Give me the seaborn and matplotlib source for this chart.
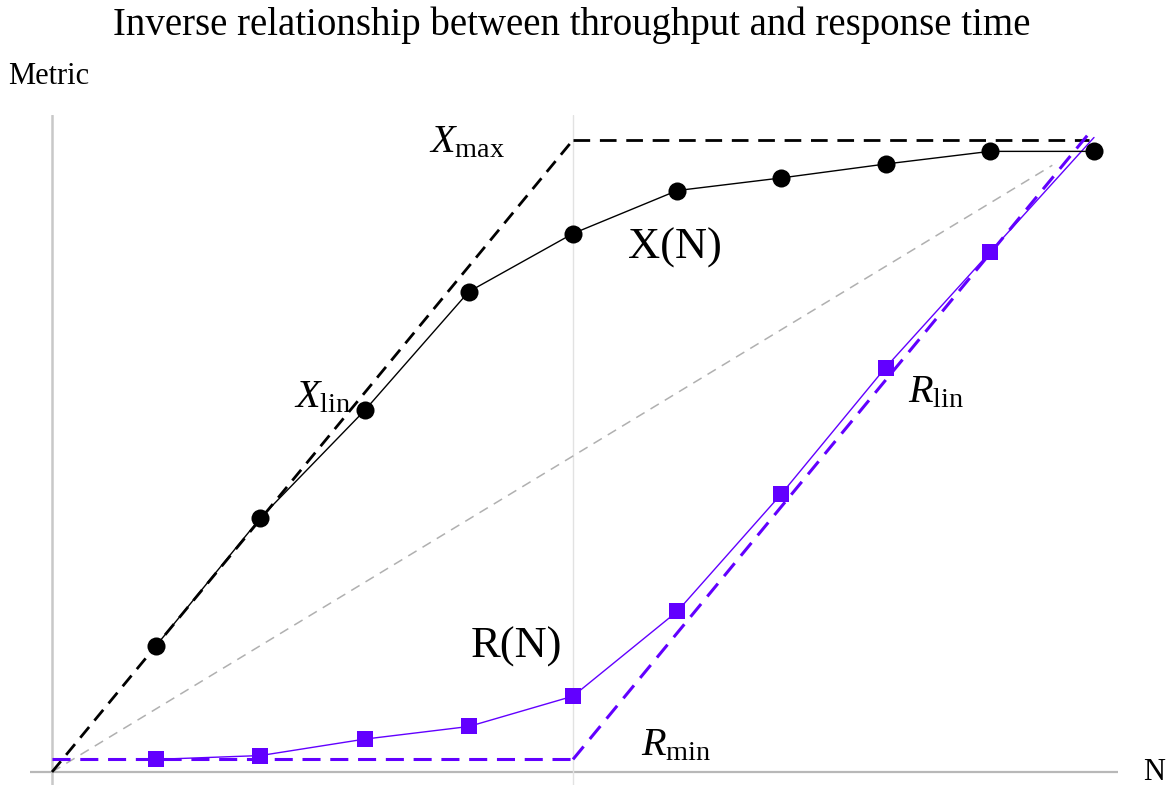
import matplotlib
matplotlib.use("Agg")
import matplotlib.pyplot as plt
import seaborn as sns
import pandas as pd
import numpy as np

# ---- data ----
n_x = [1, 2, 3, 4, 5, 6, 7, 8, 9, 10]
throughput = [1.00, 2.01, 2.86, 3.80, 4.26, 4.60, 4.70, 4.81, 4.91, 4.91]
n_r = [1, 2, 3, 4, 5, 6, 7, 8, 9, 10]
response = [0.10, 0.13, 0.26, 0.36, 0.60, 1.27, 2.20, 3.20, 4.11, 5.02]

xlin_n = [0, 5]
xlin_v = [0, 5]
xmax_n = [5, 9.95]
xmax_v = [5, 5]
rmin_n = [0, 5]
rmin_v = [0.1, 0.1]
rlin_n = [5, 9.95]
rlin_v = [0.1, 5.05]
diag_n = [0, 9.6]
diag_v = [0, 4.8]

labels = {
    "xn": ("X(N)", 5.98, 4.15, 32),
    "rn": ("R(N)", 4.46, 0.99, 32),
    "xmax": (r"$X_{\mathrm{max}}$", 3.98, 4.98, 29),
    "xlin": (r"$X_{\mathrm{lin}}$", 2.60, 2.96, 29),
    "rlin": (r"$R_{\mathrm{lin}}$", 8.48, 3.00, 29),
    "rmin": (r"$R_{\mathrm{min}}$", 5.99, 0.21, 29),
}

purple = "#6200FF"

sns.set_style("white")
plt.rcParams["font.family"] = ["Liberation Serif", "DejaVu Serif"]
plt.rcParams["mathtext.fontset"] = "custom"
plt.rcParams["mathtext.rm"] = "Liberation Serif"
plt.rcParams["mathtext.it"] = "Liberation Serif:italic"
plt.rcParams["lines.scale_dashes"] = False
plt.rcParams["text.color"] = "black"

fig = plt.figure(figsize=(11.7, 7.87), dpi=100)
ax = fig.add_axes([30/1170, 2/787, (1118-30)/1170, (785-115)/787])
ax.set_xlim(-22/104.2, 1066/104.2)
ax.set_ylim(-13/126.4, 657/126.4)
for s in ax.spines.values():
    s.set_visible(False)
ax.set_xticks([])
ax.set_yticks([])

# axes lines
ax.axhline(0, color="#b8b8b8", lw=1.6, zorder=1)
ax.axvline(0, color="#c8c8c8", lw=1.8, zorder=1)
ax.axvline(5, color="#e2e2e2", lw=1.0, zorder=1)

# reference lines
ax.plot(diag_n, diag_v, color="#b0b0b0", lw=1.1, dashes=(7, 5), zorder=2)
ax.plot(xlin_n, xlin_v, color="black", lw=2.0, dashes=(10, 6), zorder=3)
ax.plot(xmax_n, xmax_v, color="black", lw=2.0, dashes=(12, 7), zorder=3)
ax.plot(rmin_n, rmin_v, color=purple, lw=2.2, dashes=(13, 7), zorder=3)
ax.plot(rlin_n, rlin_v, color=purple, lw=2.2, dashes=(12, 7), zorder=3)

dfx = pd.DataFrame({"N": n_x, "X": throughput})
dfr = pd.DataFrame({"N": n_r, "R": response})
sns.lineplot(data=dfx, x="N", y="X", ax=ax, color="black", lw=1.0,
             marker="o", markersize=13, markeredgewidth=0, zorder=5)
sns.lineplot(data=dfr, x="N", y="R", ax=ax, color=purple, lw=1.0,
             marker="s", markersize=11, markeredgewidth=0, zorder=4,
             markevery=list(range(9)))
ax.set_xlabel("")
ax.set_ylabel("")

for key, (txt, xx, yy, fs) in labels.items():
    ax.text(xx, yy, txt, fontsize=fs, ha="center", va="center", color="black", zorder=6)

fig.text(572/1170, 1 - 25/787, "Inverse relationship between throughput and response time",
         fontsize=28, ha="center", va="center", color="black")
fig.text(8/1170, 1 - 77/787, "Metric", fontsize=22, ha="left", va="center", color="black")
fig.text(1154/1170, 1 - 773/787, "N", fontsize=22, ha="center", va="center", color="black")

fig.savefig("out.png", dpi=100)
